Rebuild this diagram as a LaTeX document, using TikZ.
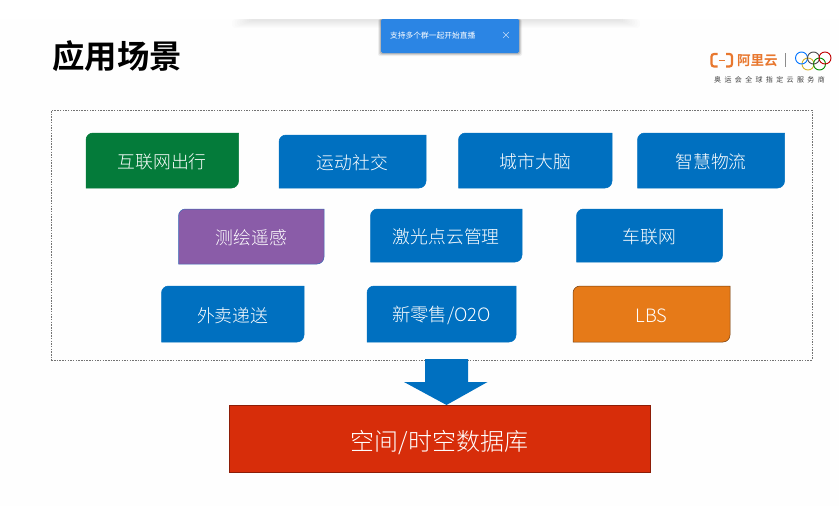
\documentclass[tikz,border=0pt]{standalone}
\usepackage{fontspec}
\setmainfont{Noto Sans CJK SC}
\newfontfamily\cjklight{Noto Sans CJK SC Light}
\newfontfamily\cjkbold{Noto Sans CJK SC Bold}
\newfontfamily\cjkspaced[LetterSpace=48]{Noto Sans CJK SC}
\usetikzlibrary{calc}
\definecolor{boxblue}{HTML}{0070C0}
\definecolor{boxgreen}{HTML}{047B3A}
\definecolor{boxpurple}{HTML}{8A5CA8}
\definecolor{boxorange}{HTML}{E67A18}
\definecolor{boxred}{HTML}{D72D0A}
\definecolor{toastblue}{HTML}{2B85E4}
\definecolor{logoorange}{HTML}{E8772E}
\tikzset{
  x=1pt,y=-1pt,
  tilelabel/.style={text=white,font=\cjklight\fontsize{17.8}{20}\selectfont,inner sep=0pt,yshift=-1.5pt},
  ringline/.style={draw,line width=0.9pt,fill=none},
}
% Tile with rounded top-left and bottom-right corners and a centred label
\newcommand{\tile}[8]{%
  \path[fill=#6,draw=#7,line width=0.5pt]
    (#2+7,#3) -- (#4,#3) -- (#4,#5-7) .. controls (#4,#5-3.1) and (#4-3.1,#5) .. (#4-7,#5)
    -- (#2,#5) -- (#2,#3+7) .. controls (#2,#3+3.1) and (#2+3.1,#3) .. (#2+7,#3) -- cycle;
  \node[tilelabel] (#1) at ({(#2+#4)/2},{(#3+#5)/2}) {#8};
}
\begin{document}
\begin{tikzpicture}
\useasboundingbox (0,0) rectangle (839,506);
\fill[white!99.5!black] (0,0) rectangle (839,506);
\fill[white] (0,0) rectangle (839,19);

% Soft shadow beneath the player bar, fading towards its ends and downwards
\foreach \i in {0,...,7}{
  \fill[black,opacity=0.011,rounded corners=3] ({232+\i*2.5},19) rectangle ({640-\i*2.5},{28-\i});
}

% Notification toast
\foreach \g/\o in {3/0.06,2/0.10,1/0.14}{
  \fill[black,opacity=\o,rounded corners=2] (381-\g,19) rectangle (519+\g,53+\g);
}
\fill[toastblue,rounded corners=1.5] (381,19) rectangle (519,53);
\node[text=white,font=\fontsize{7.75}{10}\selectfont,inner sep=0pt,anchor=west] (toast) at (390,35.5) {支持多个群一起开始直播};
\coordinate (xmark) at (506,35);
\draw[white!70!toastblue,line width=0.6pt] ($(xmark)+(-2.8,-2.8)$) -- ($(xmark)+(2.8,2.8)$)
  ($(xmark)+(-2.8,2.8)$) -- ($(xmark)+(2.8,-2.8)$);

% Slide title
\node[font=\cjkbold\fontsize{32.4}{36}\selectfont,inner sep=0pt,anchor=west] (title) at (52,56) {应用场景};

% Sponsor logo
\draw[logoorange,line width=2.2pt,rounded corners=2.5] (717.5,54) -- (711.5,54) -- (711.5,66.5) -- (717.5,66.5);
\draw[logoorange,line width=2.2pt,rounded corners=2.5] (726,54) -- (732,54) -- (732,66.5) -- (726,66.5);
\draw[logoorange,line width=1pt] (718.5,60.5) -- (725,60.5);
\node[text=logoorange,font=\cjkbold\fontsize{13.5}{15}\selectfont,inner sep=0pt,anchor=west] (brand) at (737,60.5) {阿里云};
\draw[black!45,line width=0.5pt] (785,53) -- (785,67);
\draw[ringline,draw=black!25!yellow!70!orange] (808,64) circle (6);
\draw[ringline,draw=green!55!black] (819.5,64) circle (6);
\draw[ringline,draw=blue!55!cyan] (801.5,58) circle (6);
\draw[ringline,draw=black!70] (813.5,58) circle (6);
\draw[ringline,draw=red!75!black] (825,58) circle (6);
\node[text=black!75,font=\cjkspaced\fontsize{7}{8}\selectfont,inner sep=0pt,anchor=west] (slogan) at (714,79.5) {奥运会全球指定云服务商};

% Dotted frame around the scenarios
\node[draw=black!55,dashed,dash pattern=on 1.5pt off 1.2pt,line width=0.6pt,inner sep=0pt,
  minimum width=760.5pt,minimum height=249.5pt,anchor=north west] (frame) at (51,110) {};

% Scenario tiles
\tile{a1}{86}{133}{238.5}{188}{boxgreen}{boxgreen}{互联网出行}
\tile{a2}{279}{135}{426}{188}{boxblue}{boxblue}{运动社交}
\tile{a3}{458.5}{133}{612}{188}{boxblue}{boxblue}{城市大脑}
\tile{a4}{637.5}{133}{784.5}{188}{boxblue}{boxblue}{智慧物流}
\tile{b1}{178.5}{209}{324}{264}{boxpurple}{boxblue!60!boxpurple}{测绘遥感}
\tile{b2}{370.5}{209}{522}{262}{boxblue}{boxblue}{激光点云管理}
\tile{b3}{576.5}{209}{722.5}{262}{boxblue}{boxblue}{车联网}
\tile{c1}{161.5}{286}{304}{342}{boxblue}{boxblue}{外卖递送}
\tile{c2}{367}{286}{516}{342}{boxblue}{boxblue}{\fontsize{18.4}{20}\selectfont 新零售/O2O}
\tile{c3}{573}{286}{730}{342}{boxorange}{black!50!boxorange}{\fontsize{18.4}{20}\selectfont LBS}

% Target database
\node[fill=boxred,draw=black!35!boxred,line width=0.5pt,text=white,font=\cjklight\fontsize{24}{28}\selectfont,
  inner sep=0pt,text height=26pt,text depth=3pt,minimum width=420.5pt,minimum height=67pt,anchor=north west] (db) at (229,405) {空间/时空数据库};

% Block arrow from the frame down to the database
\coordinate (tip) at (446.5,405);
\fill[boxblue] (tip |- frame.south) ++(-21.5,-1) -- ++(43,0) -- (468,382) -- (487.5,382) -- (tip)
  -- (404,382) -- (425,382) -- cycle;
\end{tikzpicture}
\end{document}
